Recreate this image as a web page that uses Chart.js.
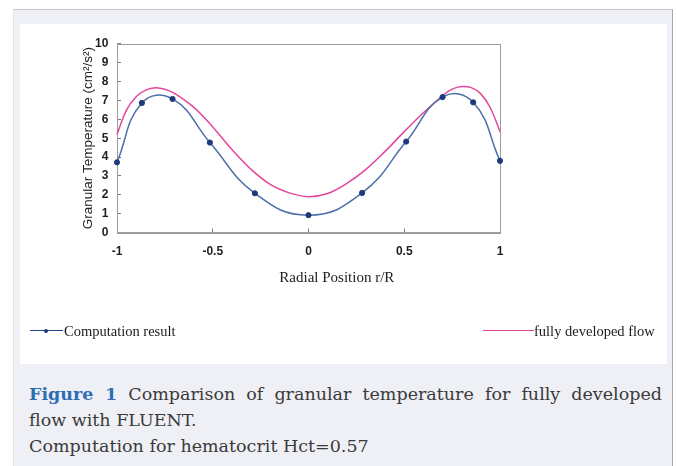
<!DOCTYPE html>
<html>
<head>
<meta charset="utf-8">
<script src="https://cdn.jsdelivr.net/npm/chart.js@4.4.1/dist/chart.umd.min.js"></script>
<style>
  html, body { margin: 0; padding: 0; background: #fff; }
  body { width: 677px; height: 466px; position: relative; overflow: hidden; }
  #panel { position: absolute; left: 13px; top: 9px; width: 658px; height: 470px; background: #eff0f6;
           border-top: 1px solid #c4c4ca; border-right: 1px solid #a6a6ae; border-left: 1px solid #e2e3ea; }
  #box { position: absolute; left: 20px; top: 24px; width: 647px; height: 340px; background: #fff; }
  #chart { position: absolute; left: 0; top: 0; }
  .leg { position: absolute; font-family: "Liberation Serif", serif; font-size: 14.5px; color: #1a1a1a;
         line-height: 16px; white-space: nowrap; }
  .legline { position: absolute; height: 0; }
  .legdot { position: absolute; width: 4px; height: 4px; border-radius: 50%; background: #1d3a7a; }
  #caption { position: absolute; left: 29px; top: 381px; width: 633px; font-family: "DejaVu Serif", serif;
             font-size: 17.5px; line-height: 26px; color: #3a3a3a; }
  #caption .l1 { text-align: justify; text-align-last: justify; }
  #caption b { color: #2d6db3; }
</style>
</head>
<body>
<div id="panel"></div>
<div id="box">
  <canvas id="chart" width="647" height="340"></canvas>
  <div class="legline" style="left:10px; top:306px; width:33px; border-top:1.5px solid #23418a;"></div>
  <div class="legdot" style="left:24px; top:305px;"></div>
  <div class="leg" style="left:44px; top:299px;">Computation result</div>
  <div class="legline" style="left:463px; top:306px; width:51px; border-top:1.5px solid #e2479a;"></div>
  <div class="leg" style="left:514px; top:299px;">fully developed flow</div>
</div>
<div id="caption">
  <div class="l1"><b>Figure 1</b> Comparison of granular temperature for fully developed</div>
  <div>flow with FLUENT.</div>
  <div>Computation for hematocrit Hct=0.57</div>
</div>
<script>
// computation result (points with markers)
const compX = [-1, -0.87, -0.71, -0.515, -0.28, 0, 0.28, 0.51, 0.70, 0.86, 1];
const compY = [3.72, 6.87, 7.08, 4.77, 2.08, 0.92, 2.1, 4.82, 7.18, 6.9, 3.8];

// fully developed flow (smooth curve, no markers)
const flowX = [-1, -0.95, -0.9, -0.85, -0.8, -0.75, -0.7, -0.6, -0.5, -0.4, -0.3, -0.2, -0.1, 0,
               0.1, 0.2, 0.3, 0.4, 0.5, 0.6, 0.7, 0.75, 0.8, 0.85, 0.9, 0.95, 1];
const flowY = [5.2, 6.5, 7.2, 7.55, 7.68, 7.6, 7.38, 6.65, 5.6, 4.4, 3.35, 2.55, 2.1, 1.9,
               2.07, 2.6, 3.35, 4.3, 5.35, 6.35, 7.25, 7.6, 7.74, 7.68, 7.35, 6.6, 5.35];

const xMin = -1, xMax = 1, xStep = 0.5;
const yMin = 0, yMax = 10, yStep = 1;
const xTitle = "Radial Position r/R";
const yTitle = "Granular Temperature (cm²/s²)";

const toPoints = (xs, ys) => xs.map((x, i) => ({ x, y: ys[i] }));

// box round the plot area
const frame = {
  id: "frame",
  beforeDatasetsDraw(chart) {
    const { ctx, chartArea: a } = chart;
    ctx.save();
    ctx.strokeStyle = "#9c9c9c";
    ctx.lineWidth = 1;
    ctx.strokeRect(Math.round(a.left) + 0.5, Math.round(a.top) + 0.5,
                   Math.round(a.right - a.left), Math.round(a.bottom - a.top));
    ctx.restore();
  }
};

const tickFont = { family: "Liberation Sans", size: 12, weight: "bold" };

new Chart(document.getElementById("chart"), {
  type: "line",
  data: {
    datasets: [
      {
        label: "Computation result",
        data: toPoints(compX, compY),
        borderColor: "#4b70a8",
        borderWidth: 1.5,
        pointRadius: 2.6,
        pointBackgroundColor: "#1d3a7a",
        pointBorderColor: "#1d3a7a",
        pointBorderWidth: 1,
        tension: 0.45,
        clip: false
      },
      {
        label: "fully developed flow",
        data: toPoints(flowX, flowY),
        borderColor: "#e2479a",
        borderWidth: 1.5,
        pointRadius: 0,
        tension: 0.4,
        clip: false
      }
    ]
  },
  options: {
    responsive: false,
    animation: false,
    events: [],
    layout: { padding: { left: 0, right: 13.4, top: 15, bottom: 0 } },
    scales: {
      x: {
        type: "linear", min: xMin, max: xMax,
        ticks: { stepSize: xStep, padding: 16, color: "#1e1e1e", font: tickFont,
                 callback: v => String(v) },
        grid: { drawOnChartArea: false, tickLength: -4, color: "#7a7a7a" },
        border: { color: "#9c9c9c" },
        afterFit: s => { s.height = 26.5; }
      },
      y: {
        min: yMin, max: yMax,
        ticks: { stepSize: yStep, padding: 12.7, color: "#1e1e1e", font: tickFont },
        grid: { drawOnChartArea: false, tickLength: -4, color: "#7a7a7a" },
        border: { color: "#9c9c9c" },
        title: { display: true, text: yTitle, color: "#222",
                 font: { family: "Liberation Sans", size: 13.5 }, padding: { top: 60, bottom: 0 } },
        afterFit: s => { s.width = 97; }
      },
      yR: {
        position: "right",
        ticks: { display: false },
        grid: { display: false },
        border: { display: false },
        afterFit: s => { s.width = 153.6; }
      }
    },
    plugins: {
      legend: { display: false },
      tooltip: { enabled: false },
      title: {
        display: true, position: "bottom", text: xTitle, color: "#222",
        font: { family: "Liberation Serif", size: 15, weight: "normal" },
        padding: { top: 10, bottom: 77 }
      }
    }
  },
  plugins: [frame]
});
</script>
</body>
</html>
